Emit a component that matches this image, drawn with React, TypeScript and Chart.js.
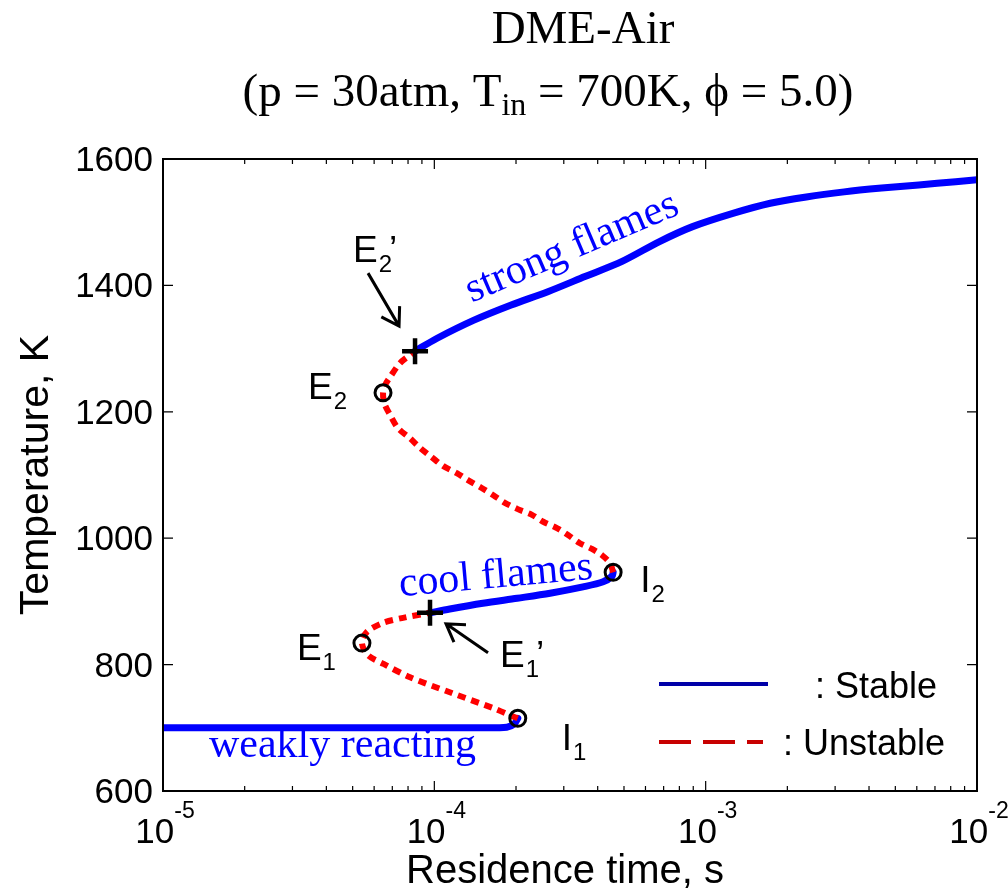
import React, { useEffect, useRef } from "react";
import { Chart, registerables } from "chart.js";

Chart.register(...registerables);

// Stable lower branch: weakly reacting mixture (residence time in s, temperature in K)
const weakTime = [1e-5, 2e-5, 5e-5, 1e-4, 1.5e-4, 1.85e-4, 1.97e-4, 2.03e-4];
const weakTemp = [700, 700, 700, 700, 700, 701, 706, 715];

// Unstable branch I1 -> E1 -> E1'
const unstableLowTime = [2.03e-4, 1.95e-4, 1.65e-4, 1.16e-4, 8.14e-5, 6.5e-5, 5.69e-5, 5.41e-5, 5.65e-5, 6.47e-5, 7.67e-5, 9.64e-5];
const unstableLowTemp = [715, 718, 731, 755, 780, 801, 815, 834, 852, 866, 874, 882];

// Stable cool-flame branch E1' -> I2
const coolTime = [9.64e-5, 1.14e-4, 1.51e-4, 2.02e-4, 2.67e-4, 3.53e-4, 4.19e-4, 4.52e-4, 4.56e-4];
const coolTemp = [882, 888, 897, 905, 913, 923, 931, 940, 946];

// Unstable branch I2 -> E2 -> E2'
const unstableHighTime = [4.56e-4, 4.45e-4, 4.15e-4, 3.81e-4, 3.44e-4, 3.11e-4, 2.83e-4, 2.52e-4, 2.29e-4, 2.03e-4, 1.82e-4, 1.65e-4, 1.5e-4, 1.33e-4, 1.21e-4, 1.08e-4, 9.8e-5, 8.86e-5, 8.14e-5, 7.35e-5, 6.87e-5, 6.55e-5, 6.47e-5, 6.6e-5, 6.87e-5, 7.47e-5, 8.14e-5, 8.49e-5];
const unstableHighTemp = [946, 960, 973, 983, 992, 1005, 1016, 1026, 1037, 1046, 1056, 1068, 1079, 1092, 1103, 1114, 1128, 1143, 1158, 1174, 1195, 1213, 1230, 1243, 1255, 1277, 1290, 1296];

// Stable strong-flame branch E2' -> long residence times
const strongTime = [8.49e-5, 1.02e-4, 1.4e-4, 1.92e-4, 2.62e-4, 3.59e-4, 4.92e-4, 6.73e-4, 8.95e-4, 1.26e-3, 1.73e-3, 2.35e-3, 3.24e-3, 4.45e-3, 6.1e-3, 8.34e-3, 1e-2];
const strongTemp = [1296, 1316, 1345, 1369, 1390, 1414, 1438, 1469, 1493, 1514, 1530, 1540, 1548, 1554, 1559, 1564, 1567];

// Turning points: I1, E1, I2, E2
const turnTime = [2.03e-4, 5.41e-5, 4.56e-4, 6.47e-5];
const turnTemp = [715, 834, 946, 1230];
const turnNames = ["I", "E", "I", "E"];
const turnSubs = ["1", "1", "2", "2"];

// Jump points: E1', E2'
const jumpTime = [9.64e-5, 8.49e-5];
const jumpTemp = [882, 1296];
const jumpSubs = ["1", "2"];

// Axis ticks
const yTicks = [600, 800, 1000, 1200, 1400, 1600];
const xDecades = [-5, -4, -3, -2];

// Branch captions
const captionText = ["weakly reacting", "cool flames", "strong flames"];
const captionTime = [4.587e-5, 1.688e-4, 3.234e-4];
const captionTemp = [653.8, 937, 1457];
const captionAngle = [0, -5.15, -23.1];

const SANS = '"Liberation Sans", Arial, Helvetica, sans-serif';
const SERIF = '"Liberation Serif", "Times New Roman", Times, serif';

const pts = (xs: number[], ys: number[]) => xs.map((x, i) => ({ x, y: ys[i] }));

type Run = { text: string; font: string; dy: number };

function drawRuns(ctx: CanvasRenderingContext2D, runs: Run[], x: number, y: number, center: boolean) {
  const widths = runs.map((r) => {
    ctx.font = r.font;
    return ctx.measureText(r.text).width;
  });
  const total = widths.reduce((a, b) => a + b, 0);
  let cx = center ? x - total / 2 : x;
  ctx.textAlign = "left";
  ctx.textBaseline = "alphabetic";
  runs.forEach((r, i) => {
    ctx.font = r.font;
    ctx.fillText(r.text, cx, y + r.dy);
    cx += widths[i];
  });
}

function drawArrow(ctx: CanvasRenderingContext2D, x1: number, y1: number, x2: number, y2: number) {
  const ang = Math.atan2(y2 - y1, x2 - x1);
  const head = 20;
  const spread = (32 * Math.PI) / 180;
  ctx.beginPath();
  ctx.moveTo(x1, y1);
  ctx.lineTo(x2, y2);
  ctx.moveTo(x2 + head * Math.cos(ang + Math.PI - spread), y2 + head * Math.sin(ang + Math.PI - spread));
  ctx.lineTo(x2, y2);
  ctx.lineTo(x2 + head * Math.cos(ang + Math.PI + spread), y2 + head * Math.sin(ang + Math.PI + spread));
  ctx.stroke();
}

// Point label with subscript and optional prime
function drawPointLabel(ctx: CanvasRenderingContext2D, name: string, sub: string, prime: boolean, x: number, y: number) {
  const big = `37px ${SANS}`;
  const small = `24px ${SANS}`;
  ctx.textAlign = "left";
  ctx.textBaseline = "alphabetic";
  ctx.font = big;
  const wName = ctx.measureText(name).width;
  ctx.fillText(name, x, y);
  ctx.font = small;
  const wSub = ctx.measureText(sub).width;
  ctx.fillText(sub, x + wName + 1, y + 10);
  if (prime) {
    ctx.font = big;
    ctx.fillText("\u2019", x + wName + wSub - 2, y);
  }
}

const decorations = {
  id: "decorations",
  afterDraw(chart: any) {
    const { ctx, chartArea: a, scales } = chart;
    const xs = scales.x;
    const ys = scales.y;
    ctx.save();

    // Axes box
    ctx.strokeStyle = "#000";
    ctx.lineWidth = 2;
    ctx.strokeRect(a.left, a.top, a.right - a.left, a.bottom - a.top);

    // Inward tick marks on all four sides
    ctx.lineWidth = 1.2;
    ctx.beginPath();
    xDecades.forEach((d, i) => {
      const px = xs.getPixelForValue(Math.pow(10, d));
      ctx.moveTo(px, a.bottom);
      ctx.lineTo(px, a.bottom - 10);
      ctx.moveTo(px, a.top);
      ctx.lineTo(px, a.top + 10);
      if (i < xDecades.length - 1) {
        for (let m = 2; m <= 9; m++) {
          const mx = xs.getPixelForValue(m * Math.pow(10, d));
          ctx.moveTo(mx, a.bottom);
          ctx.lineTo(mx, a.bottom - 5);
          ctx.moveTo(mx, a.top);
          ctx.lineTo(mx, a.top + 5);
        }
      }
    });
    yTicks.forEach((v) => {
      const py = ys.getPixelForValue(v);
      ctx.moveTo(a.left, py);
      ctx.lineTo(a.left + 10, py);
      ctx.moveTo(a.right, py);
      ctx.lineTo(a.right - 10, py);
    });
    ctx.stroke();

    // Tick labels
    ctx.fillStyle = "#000";
    ctx.font = `35px ${SANS}`;
    ctx.textAlign = "right";
    ctx.textBaseline = "alphabetic";
    yTicks.forEach((v) => {
      ctx.fillText(String(v), a.left - 10, ys.getPixelForValue(v) + 12);
    });
    xDecades.forEach((d) => {
      const px = xs.getPixelForValue(Math.pow(10, d));
      ctx.font = `35px ${SANS}`;
      const wBase = ctx.measureText("10").width;
      ctx.font = `23px ${SANS}`;
      const sup = String(d);
      const wSup = ctx.measureText(sup).width;
      const start = px + 2 - (wBase + wSup) / 2;
      ctx.textAlign = "left";
      ctx.font = `35px ${SANS}`;
      ctx.fillText("10", start, a.bottom + 52);
      ctx.font = `23px ${SANS}`;
      ctx.fillText(sup, start + wBase, a.bottom + 27);
    });

    // Axis titles
    ctx.font = `40px ${SANS}`;
    ctx.textAlign = "center";
    ctx.fillText("Residence time, s", (a.left + a.right) / 2 - 5, a.bottom + 92);
    ctx.save();
    ctx.translate(48, (a.top + a.bottom) / 2);
    ctx.rotate(-Math.PI / 2);
    ctx.font = `41px ${SANS}`;
    ctx.textAlign = "center";
    ctx.fillText("Temperature, K", 0, 0);
    ctx.restore();

    // Chart title
    const mid = (a.left + a.right) / 2;
    ctx.font = `47px ${SERIF}`;
    ctx.textAlign = "center";
    ctx.fillText("DME-Air", mid + 13, 43);
    drawRuns(
      ctx,
      [
        { text: "(p = 30atm, T", font: `47px ${SERIF}`, dy: 0 },
        { text: "in", font: `32px ${SERIF}`, dy: 9 },
        { text: " = 700K, \u03d5 = 5.0)", font: `47px ${SERIF}`, dy: 0 },
      ],
      mid - 22,
      106,
      true
    );

    // Branch captions
    ctx.fillStyle = "#0000ff";
    ctx.font = `42px ${SERIF}`;
    captionText.forEach((t, i) => {
      const cx = xs.getPixelForValue(captionTime[i]);
      const cy = ys.getPixelForValue(captionTemp[i]);
      ctx.save();
      ctx.translate(cx, cy);
      ctx.rotate((captionAngle[i] * Math.PI) / 180);
      ctx.textAlign = "center";
      ctx.textBaseline = "alphabetic";
      ctx.fillText(t, 0, i === 0 ? 0 : 9.5);
      ctx.restore();
    });

    // Point labels
    ctx.fillStyle = "#000";
    const turnOffsets = [
      [44, 32],
      [-65, 17],
      [27, 20],
      [-75, 6],
    ];
    turnTime.forEach((t, i) => {
      const px = xs.getPixelForValue(t);
      const py = ys.getPixelForValue(turnTemp[i]);
      drawPointLabel(ctx, turnNames[i], turnSubs[i], false, px + turnOffsets[i][0], py + turnOffsets[i][1]);
    });
    const jumpOffsets = [
      [70, 54],
      [-62, -89],
    ];
    const arrowOffsets = [
      [58, 40, 16, 11],
      [-47, -78, -16, -25],
    ];
    ctx.strokeStyle = "#000";
    ctx.lineWidth = 3;
    jumpTime.forEach((t, i) => {
      const px = xs.getPixelForValue(t);
      const py = ys.getPixelForValue(jumpTemp[i]);
      drawPointLabel(ctx, "E", jumpSubs[i], true, px + jumpOffsets[i][0], py + jumpOffsets[i][1]);
      const o = arrowOffsets[i];
      drawArrow(ctx, px + o[0], py + o[1], px + o[2], py + o[3]);
    });

    // Legend
    const lx = a.left + 496;
    ctx.lineWidth = 4;
    ctx.strokeStyle = "#0000a8";
    ctx.beginPath();
    ctx.moveTo(lx, a.bottom - 107);
    ctx.lineTo(lx + 109, a.bottom - 107);
    ctx.stroke();
    ctx.strokeStyle = "#c80000";
    ctx.setLineDash([32, 12]);
    ctx.beginPath();
    ctx.moveTo(lx, a.bottom - 49);
    ctx.lineTo(lx + 104, a.bottom - 49);
    ctx.stroke();
    ctx.setLineDash([]);
    ctx.fillStyle = "#000";
    ctx.font = `36px ${SANS}`;
    ctx.textAlign = "left";
    ctx.fillText(": Stable", a.left + 652, a.bottom - 93);
    ctx.fillText(": Unstable", a.left + 620, a.bottom - 36);

    ctx.restore();
  },
};

const stableStyle = {
  borderColor: "#0000ff",
  borderWidth: 7,
  pointRadius: 0,
  borderCapStyle: "round" as const,
  borderJoinStyle: "round" as const,
  tension: 0.3,
  fill: false,
};
const unstableStyle = {
  borderColor: "#ff0000",
  borderWidth: 6,
  borderDash: [8, 6],
  pointRadius: 0,
  tension: 0.3,
  fill: false,
};

export default function App() {
  const ref = useRef<HTMLCanvasElement>(null);
  useEffect(() => {
    document.body.style.margin = "0";
    const canvas = ref.current;
    if (!canvas) return;
    const chart = new Chart(canvas, {
      type: "line",
      data: {
        datasets: [
          {
            label: "turning points",
            data: pts(turnTime, turnTemp),
            showLine: false,
            pointStyle: "circle",
            pointRadius: 8,
            pointBorderWidth: 3,
            pointBorderColor: "#000",
            pointBackgroundColor: "rgba(0,0,0,0)",
            order: 0,
          },
          {
            label: "jump points",
            data: pts(jumpTime, jumpTemp),
            showLine: false,
            pointStyle: "cross",
            pointRadius: 13,
            pointBorderWidth: 4.5,
            pointBorderColor: "#000",
            order: 0,
          },
          { label: "weakly reacting", data: pts(weakTime, weakTemp), ...stableStyle, order: 2 },
          { label: "cool flames", data: pts(coolTime, coolTemp), ...stableStyle, order: 2 },
          { label: "strong flames", data: pts(strongTime, strongTemp), ...stableStyle, order: 2 },
          { label: "unstable low", data: pts(unstableLowTime, unstableLowTemp), ...unstableStyle, order: 1 },
          { label: "unstable high", data: pts(unstableHighTime, unstableHighTemp), ...unstableStyle, order: 1 },
        ] as any,
      },
      options: {
        responsive: false,
        animation: false,
        devicePixelRatio: 1,
        layout: { padding: { left: 163, top: 159, right: 31, bottom: 104 } },
        plugins: {
          legend: { display: false },
          tooltip: { enabled: false },
          title: { display: false },
        },
        scales: {
          x: { type: "logarithmic", min: 1e-5, max: 1e-2, display: false },
          y: { type: "linear", min: 600, max: 1600, display: false },
        },
      },
      plugins: [decorations],
    });
    return () => chart.destroy();
  }, []);
  return <canvas ref={ref} width={1008} height={895} style={{ display: "block" }} />;
}
